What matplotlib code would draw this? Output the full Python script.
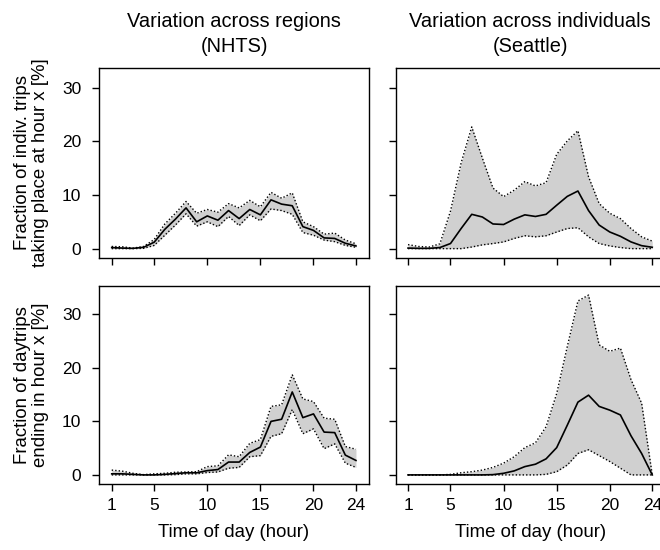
import numpy as np
import matplotlib
matplotlib.use("Agg")
import matplotlib.pyplot as plt

plt.rcParams['font.family'] = ['Liberation Sans', 'DejaVu Sans']

hours = list(range(1, 25))

# fraction of trips taking place at hour x, across NHTS regions
nhts_trips_mean = [0.2, 0.1, 0.05, 0.25, 1.2, 3.6, 5.5, 7.6, 5.0, 6.1, 5.3, 7.1,
                   5.6, 7.3, 6.3, 9.1, 8.3, 8.0, 4.1, 3.4, 2.0, 1.9, 1.0, 0.5]
nhts_trips_hi = [0.4, 0.35, 0.1, 0.4, 1.7, 4.6, 6.6, 8.8, 6.6, 7.3, 6.8, 8.4,
                 7.6, 9.0, 7.8, 10.5, 9.4, 10.4, 5.0, 4.1, 2.7, 2.9, 1.6, 0.9]
nhts_trips_lo = [0, 0, 0, 0.05, 0.6, 2.5, 4.4, 6.5, 4.2, 5.0, 4.1, 6.0,
                 4.3, 6.3, 5.2, 7.4, 7.1, 6.4, 3.0, 2.5, 1.6, 1.3, 0.6, 0.25]

# same, across Seattle individuals
sea_trips_mean = [0.1, 0.05, 0.05, 0.2, 0.95, 3.75, 6.4, 5.9, 4.6, 4.5, 5.5, 6.3,
                  6.0, 6.4, 8.1, 9.75, 10.75, 7.1, 4.4, 3.1, 2.3, 1.25, 0.55, 0.25]
sea_trips_hi = [0.75, 0.4, 0.3, 0.9, 7.0, 16.0, 22.7, 16.9, 11.3, 9.7, 10.9, 12.5,
                11.7, 12.3, 17.6, 20.1, 22.0, 13.4, 8.4, 6.6, 5.6, 3.75, 2.2, 1.4]
sea_trips_lo = [0, 0, 0, 0, 0, 0, 0.3, 0.7, 0.95, 1.25, 1.9, 2.4,
                2.2, 2.4, 3.1, 3.75, 3.9, 2.2, 0.95, 0.5, 0.2, 0, 0, 0]

# fraction of daytrips ending in hour x, NHTS regions
nhts_end_mean = [0.2, 0.2, 0.1, 0, 0, 0.1, 0.25, 0.4, 0.4, 0.8, 1.0, 2.4,
                 2.4, 4.2, 5.2, 10.0, 10.4, 15.5, 10.7, 11.4, 8.0, 7.9, 3.7, 2.7]
nhts_end_hi = [0.9, 0.7, 0.3, 0.05, 0.2, 0.3, 0.5, 0.55, 0.6, 1.55, 1.7, 3.75,
               3.4, 5.9, 6.6, 12.8, 13.1, 18.7, 14.2, 13.7, 10.6, 10.4, 5.3, 4.8]
nhts_end_lo = [0, 0, 0, 0, 0, 0, 0.05, 0.2, 0.2, 0.45, 0.55, 1.25,
               1.4, 3.4, 3.6, 7.2, 7.7, 12.2, 7.7, 8.6, 4.9, 5.8, 2.2, 1.4]

# same, Seattle individuals
sea_end_mean = [0, 0, 0, 0, 0, 0, 0, 0, 0.05, 0.3, 0.75, 1.55,
                2.0, 3.0, 5.1, 9.3, 13.6, 14.9, 12.8, 12.1, 11.2, 7.3, 4.0, 0]
sea_end_hi = [0, 0, 0, 0, 0.1, 0.4, 0.6, 0.9, 1.4, 2.2, 3.4, 5.1,
              6.0, 9.0, 15.2, 24.0, 32.5, 33.6, 24.3, 23.1, 23.7, 17.8, 13.4, 0]
sea_end_lo = [0, 0, 0, 0, 0, 0, 0, 0, 0, 0, 0, 0,
              0, 0.1, 0.6, 1.85, 4.0, 4.7, 3.6, 2.5, 1.25, 0, 0, 0]

x_ticks = [1, 5, 10, 15, 20, 24]
y_ticks = [0, 10, 20, 30]
titles = ["Variation across regions\n(NHTS)", "Variation across individuals\n(Seattle)"]
ylabels = ["Fraction of indiv. trips\ntaking place at hour x [%]",
           "Fraction of daytrips\nending in hour x [%]"]
xlabel = "Time of day (hour)"


def panel(ax, mean, lo, hi):
    """Shaded band between lo and hi, dotted edges, solid mean line."""
    ax.fill_between(hours, lo, hi, color='#d0d0d0', lw=0)
    ax.plot(hours, hi, color='black', ls=(0, (1, 1.5)), lw=1.0)
    ax.plot(hours, lo, color='black', ls=(0, (1, 1.5)), lw=1.0)
    ax.plot(hours, mean, color='black', lw=1.2)
    ax.set_xlim(-0.17, 25.2)
    ax.set_xticks(x_ticks)
    ax.set_yticks(y_ticks)
    ax.tick_params(direction='out', length=5, width=1, labelsize=12.5)
    ax.tick_params(axis='x', pad=5)
    ax.tick_params(axis='y', pad=8)
    for s in ax.spines.values():
        s.set_linewidth(1)


fig = plt.figure(figsize=(6.6, 5.5), dpi=100)

W = 269.4 / 660
lefts = [99.3 / 660, 395.6 / 660]
# (bottom, height, ylim) for each row
rows = [((550 - 258) / 550, 190 / 550, (-1.75, 33.7)),
        (66 / 550, 198 / 550, (-1.7, 35.3))]

data = [[(nhts_trips_mean, nhts_trips_lo, nhts_trips_hi), (sea_trips_mean, sea_trips_lo, sea_trips_hi)],
        [(nhts_end_mean, nhts_end_lo, nhts_end_hi), (sea_end_mean, sea_end_lo, sea_end_hi)]]

for r in range(2):
    bottom, height, ylim = rows[r]
    for c in range(2):
        ax = fig.add_axes([lefts[c], bottom, W, height])
        panel(ax, *data[r][c])
        ax.set_ylim(*ylim)
        if r == 0:
            ax.set_xticklabels([])
            ax.set_title(titles[c], fontsize=14.4, pad=11.5, linespacing=1.4)
        else:
            ax.set_xlabel(xlabel, fontsize=13.4)
            ax.xaxis.set_label_coords(0.5, -0.2)
        if c == 1:
            ax.set_yticklabels([])
        else:
            ax.set_ylabel(ylabels[r], fontsize=13.4, linespacing=1.15)
            ax.yaxis.set_label_coords(-0.185, 0.5)

fig.savefig("out.png", dpi=100)
